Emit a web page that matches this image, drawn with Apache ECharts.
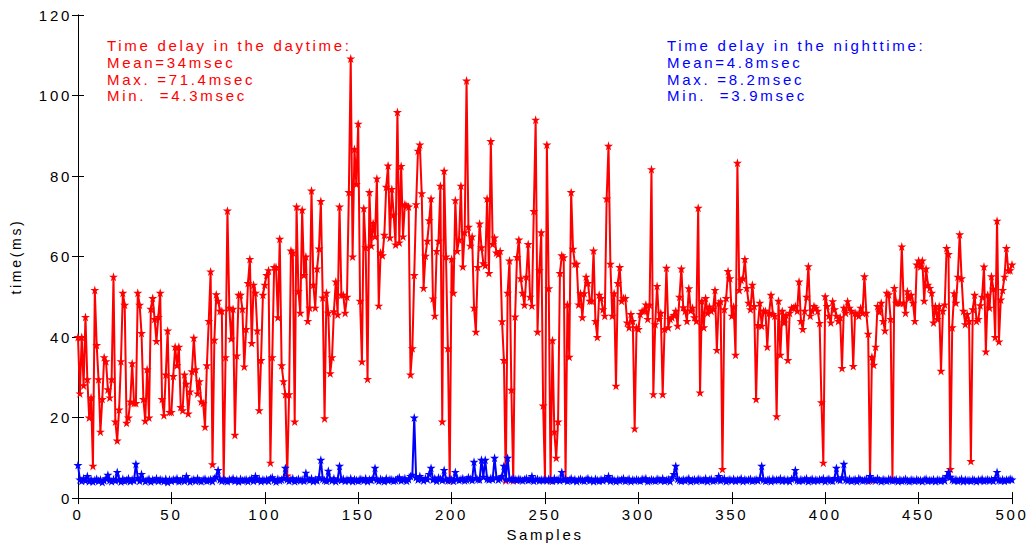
<!DOCTYPE html>
<html>
<head>
<meta charset="utf-8">
<script src="https://cdn.jsdelivr.net/npm/echarts@6/dist/echarts.min.js"></script>
<style>
  html, body { margin: 0; padding: 0; background: #fff; }
  #chart { width: 1030px; height: 547px; }
  /* wide tracking for every label in the figure */
  #chart svg text { letter-spacing: 2.7px; }
</style>
</head>
<body>
<div id="chart"></div>
<script>
// Delay per sample (ms), daytime measurements
const daytime = [
  40, 26, 40, 28, 45, 29.5, 20, 25, 8, 51.7,
  38, 29.5, 16.5, 24.6, 35, 34, 27, 25, 29.5, 55,
  19, 14.3, 22, 34, 51, 48, 18.7, 20, 24, 33.5,
  23.6, 23.6, 51, 48, 41, 24.6, 19.2, 32, 20, 47,
  49.7, 44.5, 39, 45, 51, 24.6, 20.6, 30.7, 41.6, 21.4,
  21.4, 30.3, 37.6, 33, 37.6, 22.6, 21.8, 30.7, 28.4, 21,
  26.5, 31.5, 39.8, 32, 26, 29, 24, 23.6, 17.7, 33,
  44, 56.3, 8.4, 39.3, 50.6, 49, 46.5, 46.5, 4.8, 35,
  71.4, 47.3, 39.6, 47, 15.7, 35.4, 50.5, 50.5, 47, 32.7,
  42, 53.4, 59.4, 38.5, 53, 51, 41.6, 21.8, 34.3, 50.5,
  53, 55.4, 56.6, 8.8, 35, 57.4, 57.4, 44.9, 64.4, 33,
  29, 25.8, 5.6, 25.8, 61.5, 61, 19, 72.4, 51.4, 46,
  71.6, 55.4, 60, 44, 47.3, 76.4, 53, 47.3, 57, 62,
  73.8, 49.8, 19.8, 51, 46, 31, 35, 46.4, 53.8, 45.6,
  72.4, 50.5, 50.5, 46, 50, 76, 109.2, 60, 86.7, 78,
  93, 49, 33.9, 72, 62.3, 29.6, 76, 62.7, 68.3, 65,
  79.4, 47.8, 61, 60.3, 65.4, 77.3, 82.6, 64.7, 76.8, 70.4,
  63, 95.9, 63.5, 82.5, 65, 73, 72.6, 72.4, 30.7, 37.2,
  55.4, 73, 86.3, 87.8, 75.7, 52.2, 60.2, 63.9, 69, 74.4,
  49.6, 45.3, 61.4, 63.9, 77.6, 19, 81.3, 60, 37.2, 4.4,
  59.4, 51, 74, 61.4, 64.2, 77.6, 57.5, 66, 103.7, 67.4,
  62.7, 65, 47.3, 41.3, 57.4, 68.2, 62.3, 58.3, 57.8, 74.4,
  55.9, 88.7, 63.1, 64.7, 61, 60.6, 61.4, 43.9, 34.3, 4.4,
  51, 59, 26.9, 4.4, 45.1, 59.9, 64.2, 54.6, 51, 48,
  55, 63.1, 50, 47.8, 71.3, 94, 41.3, 56.6, 66, 23,
  4.8, 87.8, 52.1, 4.4, 39.2, 16.5, 10, 19, 55.9, 60.3,
  59.8, 4.8, 48.1, 35.1, 76, 61.9, 58.2, 58.2, 48.1, 50.9,
  44.9, 50.9, 55, 53.4, 49, 49, 61.5, 44, 40, 50.5,
  49.7, 46.9, 45.3, 74.4, 87.5, 58.2, 45.3, 50.9, 27.9, 53.4,
  57.4, 49, 49.7, 49.7, 43.6, 42.4, 45.7, 44, 17.3, 42.4,
  42, 45.7, 46.5, 46.5, 48.1, 44.5, 48, 81.7, 25.8, 43.2,
  52.7, 44.5, 46, 25.8, 42, 57.2, 42.4, 44.5, 44.9, 45.5,
  46.5, 42.8, 50, 57, 47.4, 46.5, 44, 52.1, 46.6, 47.3,
  44.9, 44, 72.1, 26.2, 49, 42.4, 49.7, 46, 47.6, 46.5,
  47, 51.7, 36.8, 48.4, 48.9, 7.2, 46.9, 49.7, 56.4, 54.6,
  45.3, 47.6, 35.6, 83.3, 51.7, 54.2, 54.6, 59.4, 52.2, 48.5,
  46.9, 53, 47.7, 24.6, 43, 48.5, 42.8, 46.5, 46.5, 37.6,
  46, 50.5, 45.7, 45.3, 20.3, 49, 35.6, 46.5, 43.6, 45.5,
  34.3, 46, 47.3, 47.3, 47.7, 46.5, 53.8, 44, 42, 46.5,
  50, 57.6, 45.3, 46.5, 47.7, 47.3, 46.5, 43.5, 23.8, 8.8,
  50.1, 47.7, 45.3, 43.6, 48.9, 46.9, 45.3, 44, 44.9, 32.3,
  47.3, 46, 48.9, 47.3, 46.5, 32.8, 46, 45.7, 45.3, 47.3,
  46, 55.1, 46, 40.8, 4.4, 35.1, 33.1, 37.6, 47.7, 46.3,
  48.5, 44, 41.6, 51, 50.6, 44.5, 4.8, 52.2, 48.5, 48.5,
  48.5, 62.5, 48.5, 46, 51.4, 49.7, 50.5, 48.5, 44, 58,
  59, 57.5, 59, 49, 57, 53, 52.2, 51, 43.6, 47.7,
  44.5, 47.7, 31.6, 46.5, 48.1, 62.1, 60.6, 7.2, 42.4, 50.9,
  48.5, 55, 65.5, 54.6, 46.5, 43.2, 45.7, 44, 9.2, 46.9,
  50.5, 44, 44.5, 47.9, 50, 57.5, 36.4, 50.5, 47.3, 55.1,
  52, 40, 68.9, 38.9, 49.3, 51.7, 55, 62.1, 56.6, 56.6,
  58
];

// Delay per sample (ms), nighttime measurements
const nighttime = [
  8.2, 4.6, 4.3, 4.9, 4.4, 5.5, 4.2, 4.7, 4.1, 4.5,
  4.8, 4.3, 4.6, 4.0, 4.4, 4.9, 5.8, 4.5, 4.2, 4.7,
  4.4, 6.5, 4.6, 4.1, 4.8, 4.3, 4.5, 4.9, 4.2, 4.6,
  4.4, 8.5, 5.0, 4.3, 6.0, 4.7, 4.2, 4.5, 4.8, 4.1,
  4.6, 4.4, 4.9, 4.3, 4.7, 4.5, 4.2, 4.8, 4.0, 4.6,
  4.3, 4.7, 4.5, 4.9, 4.2, 4.4, 4.8, 4.3, 5.5, 4.6,
  4.1, 4.5, 4.7, 4.3, 4.9, 4.4, 4.2, 4.6, 4.8, 4.3,
  4.5, 4.7, 4.2, 4.9, 5.3, 7.0, 4.6, 4.3, 4.8, 4.4,
  4.2, 4.7, 4.5, 4.9, 4.3, 4.6, 4.1, 4.8, 4.4, 4.5,
  4.7, 4.2, 4.6, 4.9, 4.3, 5.5, 4.5, 4.8, 4.2, 4.6,
  4.4, 4.7, 4.3, 4.9, 5.2, 4.5, 4.1, 4.8, 4.4, 4.6,
  5.0, 7.5, 4.7, 4.3, 4.6, 4.9, 4.2, 4.5, 4.8, 4.4,
  4.6, 4.3, 6.3, 4.7, 4.5, 4.9, 4.2, 4.6, 4.4, 5.2,
  9.5, 4.8, 4.5, 4.3, 6.8, 4.7, 4.4, 4.9, 4.2, 4.6,
  8.0, 4.5, 4.8, 4.3, 4.6, 4.4, 4.9, 4.2, 4.7, 4.5,
  4.3, 4.8, 4.6, 4.4, 4.9, 4.2, 4.7, 4.5, 5.0, 7.5,
  4.6, 4.3, 4.8, 4.5, 4.2, 4.9, 4.4, 4.7, 4.6, 4.3,
  4.5, 4.8, 5.2, 4.4, 4.6, 4.9, 4.3, 4.7, 5.5, 5.8,
  20.0, 5.2, 4.6, 5.5, 4.8, 4.4, 5.0, 4.7, 6.0, 7.5,
  4.6, 4.9, 4.3, 5.1, 4.8, 4.5, 7.0, 4.7, 4.4, 4.9,
  4.6, 4.3, 6.5, 4.8, 4.5, 4.7, 4.9, 4.4, 4.6, 5.2,
  4.8, 4.5, 9.0, 5.0, 4.7, 4.6, 9.5, 5.3, 9.5, 4.8,
  4.6, 5.0, 4.7, 10.0, 5.2, 4.6, 4.9, 5.5, 8.0, 4.7,
  10.0, 4.8, 4.6, 4.9, 4.7, 4.5, 4.8, 4.6, 4.4, 4.7,
  4.9, 4.5, 4.6, 5.5, 4.3, 4.7, 4.8, 4.4, 4.6, 4.5,
  4.7, 4.4, 4.8, 4.6, 4.3, 4.9, 4.5, 4.7, 4.4, 6.5,
  4.6, 4.8, 4.3, 4.5, 4.9, 4.4, 4.7, 4.2, 4.6, 4.8,
  4.5, 4.3, 4.7, 4.9, 4.4, 4.6, 4.2, 4.8, 4.5, 4.3,
  4.7, 4.4, 4.9, 4.6, 5.5, 4.3, 4.8, 4.5, 4.2, 4.7,
  4.4, 4.6, 4.9, 4.3, 4.5, 4.8, 4.2, 4.6, 4.4, 4.7,
  4.5, 4.3, 4.8, 4.6, 4.9, 4.2, 4.4, 4.7, 4.5, 4.3,
  4.8, 4.6, 4.4, 4.9, 4.3, 4.5, 4.7, 4.2, 5.2, 6.0,
  8.0, 4.8, 4.5, 4.3, 4.7, 4.4, 4.6, 4.9, 4.2, 4.5,
  4.7, 4.3, 4.8, 4.6, 4.4, 4.5, 4.9, 4.2, 4.6, 4.8,
  4.3, 4.5, 4.7, 5.5, 4.4, 4.6, 4.9, 4.2, 4.5, 4.7,
  4.4, 4.8, 4.3, 4.6, 4.5, 4.9, 4.2, 4.7, 4.4, 4.6,
  4.8, 4.3, 4.5, 4.7, 4.4, 4.9, 8.0, 4.6, 4.3, 4.5,
  4.7, 4.2, 4.8, 4.4, 4.6, 4.5, 4.9, 4.3, 4.7, 4.4,
  4.6, 4.2, 4.8, 5.0, 7.0, 4.5, 4.3, 4.7, 4.4, 4.6,
  4.9, 4.2, 4.5, 4.8, 4.3, 4.6, 4.4, 4.7, 4.5, 4.9,
  4.2, 4.6, 4.8, 4.4, 4.3, 5.0, 7.5, 4.7, 4.5, 5.2,
  8.5, 4.6, 4.4, 4.8, 4.3, 4.5, 4.7, 4.2, 4.9, 4.6,
  4.4, 4.5, 4.8, 4.3, 5.5, 4.7, 4.6, 4.4, 4.9, 4.5,
  4.2, 4.7, 4.5, 4.3, 4.8, 4.6, 4.4, 4.5, 4.7, 4.2,
  4.6, 4.3, 4.5, 4.8, 4.4, 4.2, 4.6, 4.5, 4.3, 4.7,
  4.4, 4.5, 4.2, 4.6, 4.8, 4.3, 4.5, 4.4, 4.7, 4.2,
  4.6, 4.5, 4.3, 4.8, 4.4, 5.5, 6.5, 5.3, 4.6, 4.4,
  4.7, 4.3, 4.5, 4.8, 4.2, 4.6, 4.4, 4.5, 4.3, 4.7,
  4.5, 4.2, 4.6, 4.4, 4.8, 4.3, 4.5, 4.7, 4.4, 4.6,
  4.3, 5.0, 6.5, 4.5, 4.4, 4.7, 4.3, 4.6, 4.5, 4.8,
  4.6
];

const xTicks = { min: 0, max: 500, step: 50 };
const yTicks = { min: 0, max: 120, step: 20 };

const dayNotes = ['Time delay in the daytime:', 'Mean=34msec', 'Max. =71.4msec', 'Min.  =4.3msec'];
const nightNotes = ['Time delay in the nighttime:', 'Mean=4.8msec', 'Max. =8.2msec', 'Min.  =3.9msec'];

const FONT = '"Liberation Sans", Arial, Helvetica, sans-serif';
const STAR = 'path://M50,0 L61,35 L98,35 L68,57 L79,91 L50,70 L21,91 L32,57 L2,35 L39,35 Z';

const toPoints = arr => arr.map((v, i) => [i, v]);

const chart = echarts.init(document.getElementById('chart'), null, { renderer: 'svg' });

const frameAxisLine = { show: true, lineStyle: { color: '#000', width: 1 } };
const innerTick = { show: true, inside: true, length: 6, lineStyle: { color: '#000', width: 1 } };

chart.setOption({
  animation: false,
  backgroundColor: '#fff',
  grid: { left: 78, right: 18, top: 15, bottom: 42, containLabel: false },
  xAxis: [
    {
      type: 'value', min: xTicks.min, max: xTicks.max, interval: xTicks.step,
      name: 'Samples', nameLocation: 'middle', nameGap: 23,
      nameTextStyle: { fontFamily: FONT, fontSize: 15, color: '#000' },
      axisLine: frameAxisLine, axisTick: innerTick,
      axisLabel: { fontFamily: FONT, fontSize: 15, color: '#000', margin: 9 },
      splitLine: { show: false }
    },
    {
      type: 'value', position: 'top', min: xTicks.min, max: xTicks.max, interval: xTicks.step,
      axisLine: frameAxisLine, axisTick: innerTick,
      axisLabel: { show: false }, splitLine: { show: false }
    }
  ],
  yAxis: [
    {
      type: 'value', min: yTicks.min, max: yTicks.max, interval: yTicks.step,
      name: 'time(ms)', nameLocation: 'middle', nameGap: 55, nameRotate: 90,
      nameTextStyle: { fontFamily: FONT, fontSize: 14, color: '#000' },
      axisLine: frameAxisLine, axisTick: innerTick,
      axisLabel: { fontFamily: FONT, fontSize: 15, color: '#000', margin: 6 },
      splitLine: { show: false }
    },
    {
      type: 'value', position: 'right', min: yTicks.min, max: yTicks.max, interval: yTicks.step,
      axisLine: frameAxisLine, axisTick: innerTick,
      axisLabel: { show: false }, splitLine: { show: false }
    }
  ],
  series: [
    {
      name: 'daytime', type: 'line', data: toPoints(daytime),
      symbol: STAR, symbolSize: 9, showAllSymbol: true,
      lineStyle: { color: '#ff0000', width: 2 },
      itemStyle: { color: '#ff0000', borderWidth: 0 },
      z: 2
    },
    {
      name: 'nighttime', type: 'line', data: toPoints(nighttime),
      symbol: STAR, symbolSize: 9, showAllSymbol: true,
      lineStyle: { color: '#0000ff', width: 2 },
      itemStyle: { color: '#0000ff', borderWidth: 0 },
      z: 3
    }
  ],
  graphic: [
    {
      type: 'text', left: 107, top: 37,
      style: { text: dayNotes.join('\n'), fill: '#ff0000', font: '15px ' + FONT, lineHeight: 16.8 }
    },
    {
      type: 'text', left: 667, top: 37,
      style: { text: nightNotes.join('\n'), fill: '#0000ff', font: '15px ' + FONT, lineHeight: 16.8 }
    }
  ]
});
</script>
</body>
</html>
